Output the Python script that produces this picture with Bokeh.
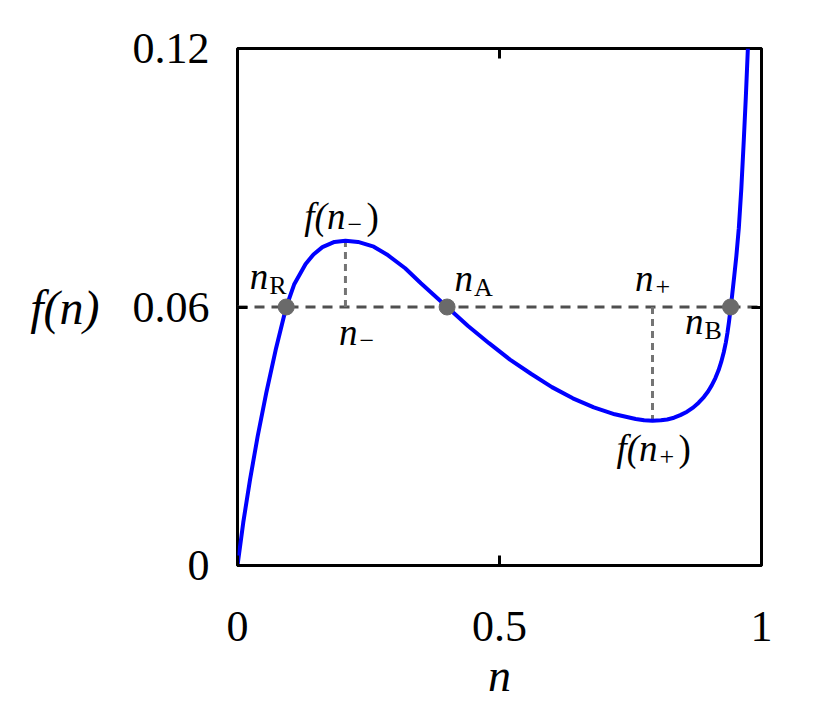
from bokeh.plotting import figure
from bokeh.models import Range1d, FixedTicker, LinearAxis, ColumnDataSource
from bokeh.core.properties import value
from bokeh.embed import file_html
from bokeh.resources import INLINE

# ---------------- data ----------------
n_vals = [0.0, 0.011, 0.024, 0.0385, 0.0548, 0.0728, 0.093, 0.108, 0.13, 0.145,
          0.162, 0.185, 0.206, 0.23, 0.26, 0.285, 0.32, 0.35, 0.40, 0.44,
          0.48, 0.52, 0.56, 0.60, 0.64, 0.68, 0.72, 0.76, 0.776, 0.792,
          0.808, 0.82, 0.833, 0.845, 0.858, 0.87, 0.88, 0.89, 0.898, 0.905,
          0.912, 0.918, 0.923, 0.928, 0.932, 0.935, 0.938, 0.941, 0.944, 0.948,
          0.952, 0.9567, 0.9615, 0.9662, 0.970, 0.974]
f_vals = [0.0, 0.010, 0.020, 0.030, 0.040, 0.050, 0.060, 0.0652, 0.0700, 0.0722,
          0.0739, 0.0751, 0.0754, 0.0751, 0.0740, 0.0722, 0.0690, 0.0655, 0.0600, 0.0556,
          0.0516, 0.0478, 0.0445, 0.0414, 0.0388, 0.0367, 0.0351, 0.0340, 0.0337, 0.0336,
          0.0337, 0.0339, 0.0343, 0.0349, 0.0357, 0.0367, 0.0378, 0.0391, 0.0404, 0.0418,
          0.0435, 0.0453, 0.0472, 0.0495, 0.0518, 0.0540, 0.0566, 0.0596, 0.0628, 0.0672,
          0.0718, 0.0783, 0.0875, 0.0987, 0.1085, 0.1200]

x_ticks = [0, 0.5, 1]
x_tick_labels = ["0", "0.5", "1"]
y_ticks = [0, 0.06, 0.12]
y_tick_labels = ["0", "0.06", "0.12"]

f_level = 0.06                       # horizontal dashed level
root_subs = ["R", "A", "B"]          # n_R, n_A, n_B
root_n = [0.093, 0.400, 0.941]
ext_subs = ["\u2212", "+"]           # n_-, n_+
ext_n = [0.206, 0.792]
ext_f = [0.0754, 0.0336]

x_title = "n"
y_title = "f(n)"

# ---------------- figure ----------------
SERIF = value("Liberation Serif")

p = figure(width=818, height=704, output_backend="svg", toolbar_location=None,
           x_range=Range1d(0, 1), y_range=Range1d(0, 0.12),
           min_border_left=237, min_border_right=57, min_border_top=48,
           min_border_bottom=139, background_fill_color="white",
           border_fill_color="white")
p.grid.visible = False
p.outline_line_color = "black"
p.outline_line_width = 3

xlab = {t: l for t, l in zip(x_ticks, x_tick_labels)}
ylab = {t: l for t, l in zip(y_ticks, y_tick_labels)}


def style_axis(ax, ticks, labels, show):
    ax.ticker = FixedTicker(ticks=ticks)
    ax.axis_line_color = None
    ax.major_tick_in = 10
    ax.major_tick_out = 0
    ax.major_tick_line_width = 3
    ax.major_tick_line_color = "black"
    ax.minor_tick_line_color = None
    ax.major_label_text_font = "Liberation Serif"
    ax.major_label_text_color = "black"
    if show:
        ax.major_label_overrides = labels
        ax.major_label_text_font_size = "44px"
    else:
        ax.major_label_overrides = {t: "" for t in ticks}
        ax.major_label_text_font_size = "0px"
        ax.major_label_standoff = 0


xa = p.xaxis[0]
ya = p.yaxis[0]
style_axis(xa, x_ticks, xlab, True)
style_axis(ya, y_ticks, ylab, True)
xa.major_label_standoff = 46
ya.major_label_standoff = 28

xa.axis_label = x_title
xa.axis_label_text_font = "Liberation Serif"
xa.axis_label_text_font_style = "italic"
xa.axis_label_text_font_size = "46px"
xa.axis_label_text_color = "black"
xa.axis_label_standoff = 6

ya.axis_label = y_title
ya.axis_label_orientation = "horizontal"
ya.axis_label_text_font = "Liberation Serif"
ya.axis_label_text_font_style = "italic"
ya.axis_label_text_font_size = "48px"
ya.axis_label_text_color = "black"
ya.axis_label_standoff = 30

top_ax = LinearAxis()
right_ax = LinearAxis()
style_axis(top_ax, x_ticks, xlab, False)
style_axis(right_ax, y_ticks, ylab, False)
p.add_layout(top_ax, "above")
p.add_layout(right_ax, "right")

# ---------------- marks ----------------
p.line([x_ticks[0], x_ticks[-1]], [f_level, f_level], line_color="#4f4f4f",
       line_width=3, line_dash="10 7")
p.segment(x0=ext_n, y0=[f_level] * len(ext_n), x1=ext_n, y1=ext_f,
          line_color="#747474", line_width=3, line_dash="7 5")
p.line(n_vals, f_vals, line_color="#0000ff", line_width=4, line_join="round")
p.scatter(root_n, [f_level] * len(root_n), size=16, fill_color="#6a6a6a",
          line_color="#6a6a6a")

# ---------------- annotations (main "n"/"f(n" + subscript + ")") ----------------
# offsets in screen pixels from each anchor point (positive y = down)
BASE = -13   # correction for Bokeh's baseline placement
root_main_off = [(-18, -18), (26, -16), (-27, 27)]
ext_main_off = [(12, 38), (1, -16)]
extf_main_off = [(0, -11), (5, 41)]

main_x, main_y, main_t, main_xo, main_yo = [], [], [], [], []
sub_x, sub_y, sub_t, sub_xo, sub_yo = [], [], [], [], []
par_x, par_y, par_t, par_xo, par_yo = [], [], [], [], []

for nv, s, (xo, yo) in zip(root_n, root_subs, root_main_off):
    main_x.append(nv); main_y.append(f_level); main_t.append("n")
    main_xo.append(xo); main_yo.append(yo + BASE)
    sub_x.append(nv); sub_y.append(f_level); sub_t.append(s)
    sub_xo.append(xo + 1); sub_yo.append(yo + BASE + 9)

for nv, s, (xo, yo) in zip(ext_n, ext_subs, ext_main_off):
    main_x.append(nv); main_y.append(f_level); main_t.append("n")
    main_xo.append(xo); main_yo.append(yo + BASE)
    sub_x.append(nv); sub_y.append(f_level); sub_t.append(s)
    sub_xo.append(xo + 2); sub_yo.append(yo + BASE + 8)

for nv, fv, s, (xo, yo) in zip(ext_n, ext_f, ext_subs, extf_main_off):
    main_x.append(nv); main_y.append(fv); main_t.append("f(n")
    main_xo.append(xo); main_yo.append(yo + BASE)
    sub_x.append(nv); sub_y.append(fv); sub_t.append(s)
    sub_xo.append(xo + 2); sub_yo.append(yo + BASE + 8)
    par_x.append(nv); par_y.append(fv); par_t.append(")")
    par_xo.append(xo + 21); par_yo.append(yo + BASE)

main_src = ColumnDataSource(dict(x=main_x, y=main_y, text=main_t, xo=main_xo, yo=main_yo))
sub_src = ColumnDataSource(dict(x=sub_x, y=sub_y, text=sub_t, xo=sub_xo, yo=sub_yo))
par_src = ColumnDataSource(dict(x=par_x, y=par_y, text=par_t, xo=par_xo, yo=par_yo))

p.text(x="x", y="y", text="text", x_offset="xo", y_offset="yo", source=main_src,
       text_font=SERIF, text_font_style="italic", text_font_size="37px",
       text_align="right", text_baseline="alphabetic", text_color="black")
p.text(x="x", y="y", text="text", x_offset="xo", y_offset="yo", source=sub_src,
       text_font=SERIF, text_font_size="26px", text_align="left",
       text_baseline="alphabetic", text_color="black")
p.text(x="x", y="y", text="text", x_offset="xo", y_offset="yo", source=par_src,
       text_font=SERIF, text_font_size="37px", text_align="left",
       text_baseline="alphabetic", text_color="black")

open("out.html", "w").write(file_html(p, INLINE))
